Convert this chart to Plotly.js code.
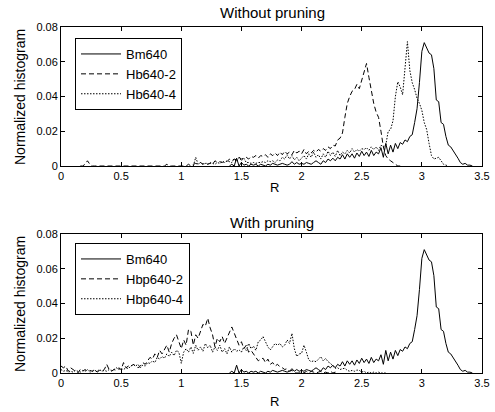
<!DOCTYPE html>
<html>
<head>
<meta charset="utf-8">
<script src="https://cdn.plot.ly/plotly-3.0.1.min.js"></script>
<style>
html,body{margin:0;padding:0;background:#fff;}
#chart{width:495px;height:412px;}
</style>
</head>
<body>
<div id="chart"></div>
<script>
// ---------- DATA (histogram bin width 0.02 in R) ----------
const BIN = 0.02;

// Bm640 (same in both panels), first bin at R = 1.40
const bm640Start = 1.40;
const bm640 = [
  0, 0.001, 0, 0.0045, 0, 0.002, 0.0005, 0.001, 0, 0.001,
  0.0005, 0.001, 0, 0.001, 0.0005, 0, 0.001, 0.0005, 0.0015, 0.001,
  0.0005, 0.001, 0.0015, 0.001, 0.0005, 0.001, 0.0025, 0.001, 0.002, 0.001,
  0.0015, 0.001, 0.002, 0.0015, 0.001, 0.002, 0.003, 0.002, 0.001, 0.003,
  0.002, 0.004, 0.003, 0.0045, 0.003, 0.005, 0.004, 0.0065, 0.004, 0.007,
  0.005, 0.007, 0.0045, 0.0075, 0.0055, 0.0085, 0.006, 0.008, 0.0055, 0.009,
  0.006, 0.008, 0.007, 0.0105, 0.005, 0.013, 0.007, 0.012, 0.008, 0.013,
  0.01, 0.0135, 0.0125, 0.015, 0.014, 0.017, 0.018, 0.025, 0.033, 0.048,
  0.066, 0.071, 0.068, 0.065, 0.064, 0.056, 0.038, 0.037, 0.025, 0.024,
  0.017, 0.012, 0.011, 0.009, 0.007, 0.0045, 0.002, 0.001, 0.0015, 0.0005,
  0.0005, 0
];

// Hb640-2 (without pruning), first bin at R = 0.16
const hb640_2Start = 0.16;
const hb640_2 = [
  0, 0, 0.001, 0.003, 0.001, 0,
  0, 0, 0, 0, 0, 0, 0, 0, 0, 0,
  0, 0, 0, 0, 0, 0, 0, 0, 0, 0,
  0, 0, 0, 0, 0, 0, 0, 0, 0, 0,
  0.001, 0, 0, 0, 0, 0, 0, 0, 0, 0.001,
  0, 0.001, 0.0015, 0.001, 0.002, 0.001, 0.002, 0.001, 0.0015, 0.001,
  0.003, 0.002, 0.0025, 0.002, 0.003, 0.0025, 0.004, 0.003, 0.004, 0.0035,
  0.005, 0.004, 0.0045, 0.005, 0.004, 0.0055, 0.005, 0.006, 0.0045, 0.006,
  0.0055, 0.0065, 0.005, 0.007, 0.006, 0.0075, 0.006, 0.008, 0.0065, 0.0085,
  0.007, 0.008, 0.0065, 0.009, 0.0075, 0.0085, 0.007, 0.0095, 0.007, 0.0085,
  0.0075, 0.009, 0.008, 0.0095, 0.0085, 0.01, 0.009, 0.011, 0.01, 0.012,
  0.0115, 0.015, 0.016, 0.019, 0.028, 0.036, 0.04, 0.043, 0.044, 0.047,
  0.0445, 0.0495, 0.055, 0.059, 0.051, 0.043, 0.036, 0.031, 0.028, 0.02,
  0.011, 0.006, 0.004, 0.003, 0.002, 0.001, 0, 0
];

// Hb640-4 (without pruning), first bin at R = 1.10
const hb640_4Start = 1.10;
const hb640_4 = [
  0, 0.005, 0.001, 0.002, 0.001, 0.0015, 0.001, 0.002, 0.0015, 0.001,
  0.002, 0.0015, 0.0025, 0.002, 0.003, 0.0025, 0.002, 0.004, 0.0025, 0.005,
  0.003, 0.0045, 0.002, 0.002, 0.0015, 0.002, 0.0015, 0.002, 0.002, 0.0025,
  0.002, 0.003, 0.0025, 0.003, 0.002, 0.0035, 0.003, 0.005, 0.004, 0.0065,
  0.004, 0.006, 0.0035, 0.005, 0.003, 0.0045, 0.006, 0.004, 0.007, 0.005,
  0.008, 0.005, 0.0065, 0.004, 0.007, 0.005, 0.0085, 0.006, 0.008, 0.0055,
  0.009, 0.006, 0.008, 0.007, 0.009, 0.0075, 0.01, 0.008, 0.0095, 0.0085,
  0.01, 0.0095, 0.0105, 0.009, 0.011, 0.0095, 0.011, 0.009, 0.012, 0.011,
  0.012, 0.02, 0.021, 0.026, 0.04, 0.0485, 0.0455, 0.041, 0.059, 0.0716,
  0.055, 0.048, 0.044, 0.039, 0.036, 0.032, 0.025, 0.021, 0.013, 0.006,
  0.004, 0.0045, 0.005, 0.003, 0.001, 0.0005, 0
];

// Hbp640-2 (with pruning), first bin at R = 0.00
const hbp640_2Start = 0.00;
const hbp640_2 = [
  0.004, 0.003, 0.004, 0.001, 0.003, 0.002, 0.001, 0, 0.002, 0.001,
  0.002, 0.001, 0.0015, 0.001, 0.002, 0.0005, 0.0015, 0.001, 0.002, 0.005,
  0.002, 0.001, 0.002, 0.0015, 0.003, 0.002, 0.006, 0.003, 0.004, 0.0035,
  0.005, 0.004, 0.003, 0.004, 0.006, 0.005, 0.007, 0.009, 0.008, 0.011,
  0.009, 0.013, 0.011, 0.014, 0.016, 0.012, 0.017, 0.02, 0.022, 0.018,
  0.014, 0.019, 0.016, 0.025, 0.024, 0.016, 0.022, 0.02, 0.024, 0.028,
  0.027, 0.0315, 0.026, 0.022, 0.015, 0.02, 0.018, 0.021, 0.017, 0.02,
  0.024, 0.0265, 0.023, 0.019, 0.016, 0.018, 0.014, 0.016, 0.012, 0.013,
  0.011, 0.009, 0.007, 0.008, 0.0085, 0.006, 0.008, 0.005, 0.006, 0.004,
  0.005, 0.0035, 0.003, 0.002, 0.0025, 0.001, 0.0015, 0.0005, 0, 0,
  0.0005, 0, 0.001, 0, 0.001, 0.0005, 0, 0.0005, 0.001, 0,
  0.0005, 0, 0.001, 0, 0.0005, 0
];

// Hbp640-4 (with pruning), first bin at R = 0.00
const hbp640_4Start = 0.00;
const hbp640_4 = [
  0.002, 0.001, 0.0015, 0.0005, 0.001, 0.0005, 0.0015, 0.001, 0.0005, 0.0015,
  0.001, 0.002, 0.0005, 0.001, 0.0015, 0.001, 0.002, 0.001, 0.0015, 0.001,
  0.002, 0.0015, 0.002, 0.003, 0.002, 0.0025, 0.002, 0.003, 0.0025, 0.004,
  0.005, 0.004, 0.005, 0.003, 0.0045, 0.004, 0.006, 0.0055, 0.007, 0.006,
  0.009, 0.008, 0.0095, 0.0085, 0.011, 0.0095, 0.012, 0.01, 0.013, 0.012,
  0.0056, 0.012, 0.014, 0.012, 0.015, 0.0113, 0.016, 0.013, 0.015, 0.0125,
  0.017, 0.0145, 0.016, 0.012, 0.015, 0.013, 0.016, 0.012, 0.014, 0.011,
  0.015, 0.012, 0.014, 0.0125, 0.0133, 0.012, 0.015, 0.013, 0.017, 0.014,
  0.0155, 0.013, 0.018, 0.019, 0.021, 0.018, 0.015, 0.0133, 0.015, 0.017,
  0.016, 0.017, 0.015, 0.016, 0.019, 0.017, 0.0228, 0.014, 0.0095, 0.011,
  0.0113, 0.016, 0.012, 0.0075, 0.0065, 0.007, 0.0065, 0.008, 0.0094, 0.007,
  0.0084, 0.0065, 0.0056, 0.004, 0.0027, 0.003, 0.002, 0.0025, 0.0027, 0.0015,
  0.001, 0.0015, 0.001, 0.0017, 0.0015, 0.0005, 0.001, 0, 0.0005, 0,
  0.0005, 0, 0.0005, 0, 0, 0
];

const panelTitles = ["Without pruning", "With pruning"];
const xLabel = "R";
const yLabel = "Normalized histogram";
const xTicks = [0, 0.5, 1, 1.5, 2, 2.5, 3, 3.5];
const yTicks = [0, 0.02, 0.04, 0.06, 0.08];

// ---------- helpers ----------
function binCenters(start, n) {
  const out = [];
  for (let i = 0; i < n; i++) out.push(+(start + i * BIN).toFixed(2));
  return out;
}
const FONT = "Liberation Sans, Arial, Helvetica, sans-serif";
const SOLID = "solid", DASHED = "5px,3px", DOTTED = "1.5px,1.5px";

function tr(name, start, vals, dash, xa, ya, leg) {
  return {
    type: "scatter", mode: "lines", name: name,
    x: binCenters(start, vals.length), y: vals,
    xaxis: xa, yaxis: ya, legend: leg,
    line: {color: "#000", width: 1, dash: dash},
    hoverinfo: "skip"
  };
}

const data = [
  tr("Bm640", bm640Start, bm640, SOLID, "x", "y", "legend"),
  tr("Hb640-2", hb640_2Start, hb640_2, DASHED, "x", "y", "legend"),
  tr("Hb640-4", hb640_4Start, hb640_4, DOTTED, "x", "y", "legend"),
  tr("Bm640", bm640Start, bm640, SOLID, "x2", "y2", "legend2"),
  tr("Hbp640-2", hbp640_2Start, hbp640_2, DASHED, "x2", "y2", "legend2"),
  tr("Hbp640-4", hbp640_4Start, hbp640_4, DOTTED, "x2", "y2", "legend2")
];

const W = 495, H = 412;
const axL = 61, axR = 482;
const topT = 27, topB = 166, botT = 234, botB = 373;

function xAxis(anchor) {
  return {
    domain: [axL / W, axR / W], anchor: anchor, range: [0, 3.5],
    tickvals: xTicks, ticks: "inside", ticklen: 4, tickcolor: "#000",
    showline: true, linecolor: "#000", linewidth: 1, mirror: "ticks",
    showgrid: false, zeroline: false,
    tickfont: {family: FONT, size: 11, color: "#000"}
  };
}
function yAxis(anchor, top, bot) {
  return {
    domain: [1 - bot / H, 1 - top / H], anchor: anchor, range: [0, 0.08],
    tickvals: yTicks, ticks: "inside", ticklen: 4, tickcolor: "#000",
    showline: true, linecolor: "#000", linewidth: 1, mirror: "ticks",
    showgrid: false, zeroline: false,
    tickfont: {family: FONT, size: 11, color: "#000"}
  };
}
function legendBox(top) {
  return {
    x: 75 / W, y: 1 - top / H, xanchor: "left", yanchor: "top",
    bgcolor: "#fff", bordercolor: "#000", borderwidth: 1,
    font: {family: FONT, size: 13, color: "#000"},
    itemwidth: 40, tracegroupgap: 0
  };
}
function ann(text, xpx, ypx, size, angle) {
  return {
    text: text, xref: "paper", yref: "paper", x: xpx / W, y: 1 - ypx / H,
    xanchor: "center", yanchor: "middle", showarrow: false, textangle: angle || 0,
    font: {family: FONT, size: size, color: "#000"}
  };
}

const layout = {
  width: W, height: H,
  margin: {l: 0, r: 0, t: 0, b: 0},
  paper_bgcolor: "#fff", plot_bgcolor: "#fff",
  showlegend: true,
  font: {family: FONT, size: 11, color: "#000"},
  xaxis: xAxis("y"), yaxis: yAxis("x", topT, topB),
  xaxis2: xAxis("y2"), yaxis2: yAxis("x2", botT, botB),
  legend: legendBox(38),
  legend2: legendBox(243),
  annotations: [
    ann(panelTitles[0], 272, 13, 15),
    ann(panelTitles[1], 272, 222, 15),
    ann(xLabel, 274, 187, 13),
    ann(xLabel, 274, 401, 13),
    ann(yLabel, 20, 97, 14, -90),
    ann(yLabel, 20, 304, 14, -90)
  ]
};

Plotly.newPlot("chart", data, layout, {staticPlot: true, displayModeBar: false});
</script>
</body>
</html>
